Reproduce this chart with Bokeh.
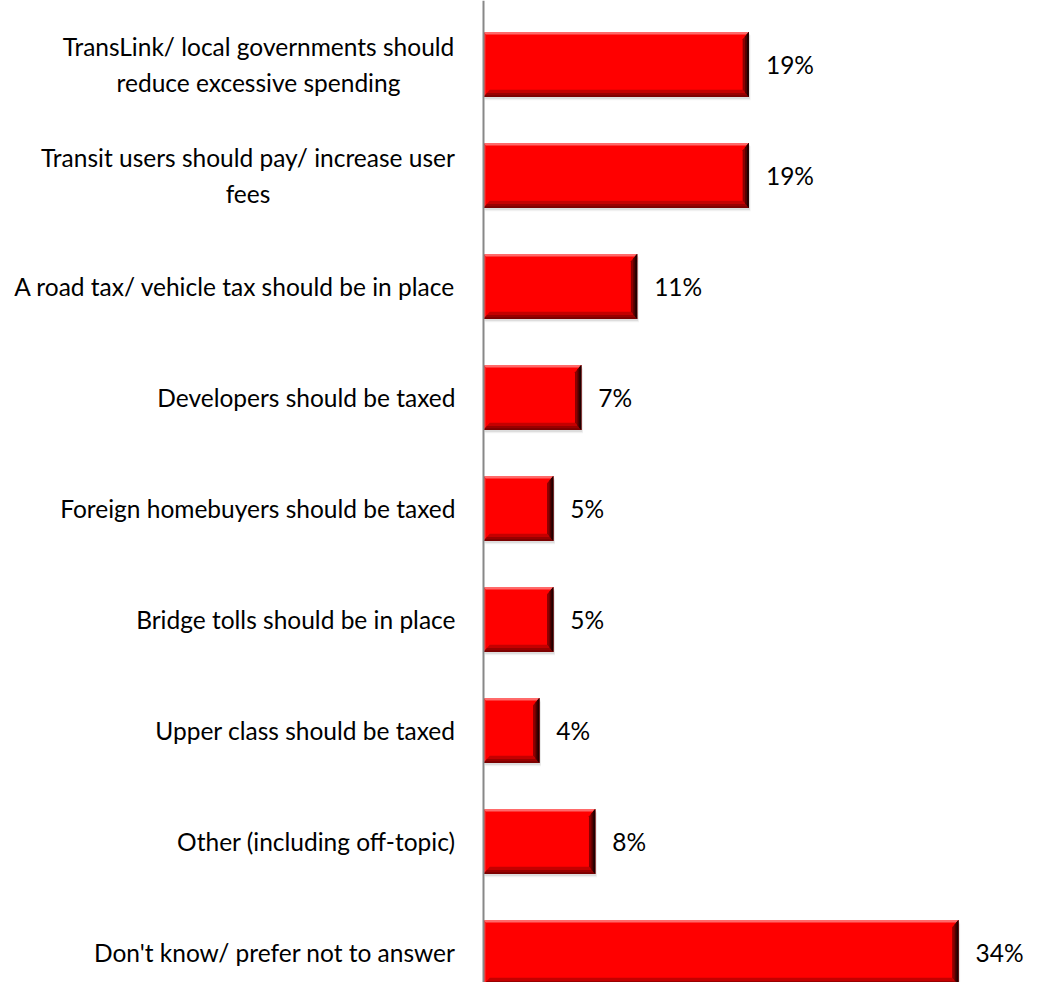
from bokeh.plotting import figure
from bokeh.models import Range1d, FixedTicker, ColumnDataSource
from bokeh.core.properties import value
from bokeh.embed import file_html
from bokeh.resources import INLINE

categories = [
    "TransLink/ local governments should\nreduce excessive spending",
    "Transit users should pay/ increase user\nfees",
    "A road tax/ vehicle tax should be in place",
    "Developers should be taxed",
    "Foreign homebuyers should be taxed",
    "Bridge tolls should be in place",
    "Upper class should be taxed",
    "Other (including off-topic)",
    "Don't know/ prefer not to answer",
]
values = [19, 19, 11, 7, 5, 5, 4, 8, 34]

# ---- style ----
FONT = "Lato"
FS = "24.5px"
STANDOFF = 28
# approximate rendered width (px) of the first line of wrapped labels, used to centre the lines
FIRST_LINE_W = {0: 392, 1: 413}

n = len(categories)
ypos = list(range(n))
h = 0.585
dx, dy = 0.45, 0.065     # bevel size in data units
sx, sy = 0.12, 0.03      # shadow offset

p = figure(width=1026, height=982, output_backend="svg", toolbar_location=None,
           x_range=Range1d(-34.574, 38.87), y_range=Range1d(8.270, -0.5766),
           min_border_left=0, min_border_right=0, min_border_top=0, min_border_bottom=0)
p.outline_line_color = None
p.xgrid.visible = False
p.ygrid.visible = False
p.xaxis.visible = False
p.background_fill_color = "white"

yt = [y - h / 2 for y in ypos]
yb = [y + h / 2 for y in ypos]

# soft shadow
for k, a in [(1.0, 0.06), (0.6, 0.08)]:
    p.quad(left=[sx * k] * n, right=[v + sx * k for v in values], top=[t + sy * k for t in yt],
           bottom=[b + sy * k for b in yb], fill_color="#000000", fill_alpha=a, line_color=None)
# main bar
p.quad(left=[0] * n, right=values, top=yt, bottom=yb, fill_color="#FF0000", line_color=None)

def bevel(side, f=1.0):
    ex, ey = dx * f, dy * f
    xs, ys = [], []
    for v, t, b in zip(values, yt, yb):
        if side == "bottom":
            xs.append([0, v, v - ex, ex]); ys.append([b, b, b - ey, b - ey])
        elif side == "right":
            xs.append([v, v, v - ex, v - ex]); ys.append([t, b, b - ey, t + ey])
        elif side == "top":
            xs.append([0, v, v - ex, ex]); ys.append([t, t, t + ey, t + ey])
        else:
            xs.append([0, 0, ex, ex]); ys.append([t, b, b - ey, t + ey])
    return xs, ys

layers = [
    ("top", 0.35, "#FF6A6A"),
    ("left", 0.35, "#FF2A2A"),
    ("bottom", 1.0, "#C40000"),
    ("bottom", 0.55, "#990000"),
    ("bottom", 0.25, "#7A0000"),
    ("right", 1.0, "#8A0000"),
    ("right", 0.6, "#500000"),
    ("right", 0.3, "#200000"),
]
for side, f, col in layers:
    xs, ys = bevel(side, f)
    p.patches(xs, ys, fill_color=col, line_color=None)

# value labels
src = ColumnDataSource(dict(x=values, y=ypos, t=[f"{v}%" for v in values]))
p.text(x="x", y="y", text="t", source=src, x_offset=17, text_baseline="middle",
       text_align="left", text_font=value(FONT), text_font_size=FS, text_color="#000000")

# category axis pinned at x = 0 (single-line labels)
wrapped = [i for i, c in enumerate(categories) if "\n" in c]
p.yaxis.fixed_location = 0
p.yaxis.ticker = FixedTicker(ticks=ypos)
p.yaxis.major_label_overrides = {i: ("" if i in wrapped else c) for i, c in zip(ypos, categories)}
p.yaxis.major_tick_in = 0
p.yaxis.major_tick_out = 0
p.yaxis.minor_tick_in = 0
p.yaxis.minor_tick_out = 0
p.yaxis.major_label_standoff = STANDOFF
p.yaxis.major_label_text_font = FONT
p.yaxis.major_label_text_font_size = FS
p.yaxis.major_label_text_color = "#000000"
p.yaxis.axis_line_color = "#888888"
p.yaxis.axis_line_width = 2

# wrapped labels: lines centred on each other, block right-aligned to the axis
wsrc = ColumnDataSource(dict(
    x=[0] * len(wrapped),
    y=[ypos[i] for i in wrapped],
    t=[categories[i] for i in wrapped],
    xo=[-(STANDOFF + 1) - FIRST_LINE_W[i] / 2 for i in wrapped],
))
p.text(x="x", y="y", text="t", source=wsrc, x_offset="xo", text_align="center",
       text_baseline="middle", text_font=value(FONT), text_font_size=FS,
       text_color="#000000", text_line_height=1.27)

open("out.html", "w").write(file_html(p, INLINE))
